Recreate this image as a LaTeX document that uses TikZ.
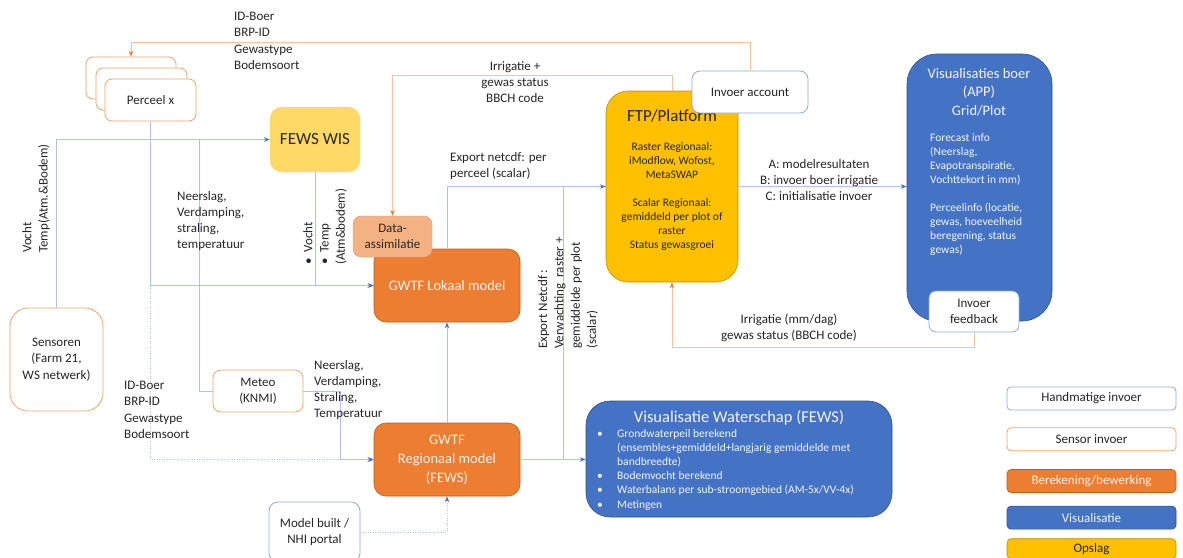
\documentclass[tikz,border=0pt]{standalone}
\usepackage{fontspec}
\setmainfont{Carlito}
\usepackage{xcolor}
\usepackage{tikz}
\usetikzlibrary{positioning, arrows.meta}

\definecolor{calcorange}{HTML}{ED7D31}
\definecolor{calcborder}{HTML}{C55A11}
\definecolor{visblue}{HTML}{4472C4}
\definecolor{visborder}{HTML}{2F528F}
\definecolor{storeyellow}{HTML}{FFC000}
\definecolor{storeborder}{HTML}{BF9000}
\definecolor{wisyellow}{HTML}{FFD966}
\definecolor{assimorange}{HTML}{F4B183}
\definecolor{inputblue}{HTML}{8FAADC}
\definecolor{sensororange}{HTML}{F4A36A}
\definecolor{linkblue}{HTML}{AFC3E8}
\definecolor{linkorange}{HTML}{F7C19C}
\definecolor{txtgray}{HTML}{262626}
\definecolor{lighttxt}{HTML}{F5F5F5}

\newcommand{\normtxt}{\fontsize{13}{16.3}\selectfont}
\newcommand{\smalltxt}{\fontsize{11.5}{14.1}\selectfont}
\newcommand{\midtxt}{\fontsize{14.5}{18.5}\selectfont}
\newcommand{\bigtxt}{\fontsize{17}{20}\selectfont}

\begin{document}
\begin{tikzpicture}[
    x=1pt, y=-1pt,
    every node/.style={align=center, text=txtgray, font=\normtxt, inner sep=2pt},
    inputbox/.style={rectangle, draw=inputblue, fill=white, line width=0.8pt},
    sensorbox/.style={rectangle, draw=sensororange, fill=white, line width=0.8pt},
    calcbox/.style={rectangle, draw=calcborder, fill=calcorange, line width=0.6pt, text=lighttxt},
    visbox/.style={rectangle, draw=visborder, fill=visblue, line width=0.6pt, text=lighttxt},
    storebox/.style={rectangle, draw=storeborder, fill=storeyellow, line width=0.6pt},
    legendbox/.style={minimum width=169pt, minimum height=23pt, rounded corners=4pt},
    bluelink/.style={draw=linkblue, line width=0.8pt},
    bluearrow/.style={bluelink, -{Stealth[length=6pt, width=4.5pt, color=visblue]}},
    dotlink/.style={bluelink, dash pattern=on 1pt off 1.5pt},
    orangelink/.style={draw=linkorange, line width=0.8pt},
    orangearrow/.style={orangelink, -{Stealth[length=6pt, width=4.5pt, color=calcorange]}}
]
\fill[white] (0,0) rectangle (1183,557);
\useasboundingbox (0,0) rectangle (1183,557);

% boxes
\node[sensorbox, rounded corners=7pt, minimum width=90pt, minimum height=42pt] (perc3) at (131,78) {};
\node[sensorbox, rounded corners=7pt, minimum width=91pt, minimum height=42pt] (perc2) at (141.5,89) {};
\node[sensorbox, rounded corners=7pt, minimum width=91pt, minimum height=42pt] (perc) at (150.5,100) {Perceel x};
\node[rectangle, draw=wisyellow, fill=wisyellow, rounded corners=12pt, minimum width=90pt, minimum height=65pt, font=\bigtxt] (fews) at (315,139.5) {FEWS WIS};
\node[storebox, rounded corners=22pt, minimum width=132pt, minimum height=191pt] (ftp) at (672,186.5) {};
\node[font=\bigtxt] (ftptitle) at (672,116) {FTP/Platform};
\node[font=\smalltxt, anchor=north] (ftpbody) at (672,140) {Raster Regionaal:\\iModflow, Wofost,\\MetaSWAP\\[14pt]Scalar Regionaal:\\gemiddeld per plot of\\raster\\Status gewasgroei};
\node[inputbox, rounded corners=8pt, minimum width=116pt, minimum height=42pt] (account) at (750,92) {Invoer account};
\node[visbox, rounded corners=30pt, minimum width=145pt, minimum height=267pt] (visboer) at (979.5,187.5) {};
\node[font=\midtxt, text=lighttxt] (visboertitle) at (979,92) {Visualisaties boer\\(APP)\\Grid/Plot};
\node[font=\smalltxt, text=lighttxt, align=left, anchor=north west] (visboerbody) at (928,131) {Forecast info\\(Neerslag,\\Evapotranspiratie,\\Vochttekort in mm)\\[14pt]Perceelinfo (locatie,\\gewas, hoeveelheid\\beregening, status\\gewas)};
\node[inputbox, rounded corners=7pt, minimum width=90pt, minimum height=41pt] (feedback) at (974,311.5) {Invoer\\feedback};
\node[calcbox, rounded corners=12pt, minimum width=146pt, minimum height=73pt, font=\midtxt] (lokaal) at (447,285.5) {GWTF Lokaal model};
\node[rectangle, draw=assimorange!90!black, fill=assimorange, rounded corners=8pt, minimum width=79pt, minimum height=41pt] (assim) at (392.5,236.5) {Data-\\assimilatie};
\node[calcbox, rounded corners=12pt, minimum width=146pt, minimum height=73pt, font=\fontsize{14.5}{19}\selectfont] (regio) at (447,459.5) {GWTF\\Regionaal model\\(FEWS)};
\node[inputbox, rounded corners=9pt, minimum width=91pt, minimum height=60pt] (model) at (314.5,532) {Model built /\\NHI portal};
\node[sensorbox, rounded corners=18pt, minimum width=93pt, minimum height=103pt] (sensoren) at (56.5,359.5) {Sensoren\\(Farm 21,\\WS netwerk)};
\node[sensorbox, rounded corners=8pt, minimum width=90pt, minimum height=42pt] (meteo) at (258,391) {Meteo\\(KNMI)};
\node[visbox, rounded corners=24pt, minimum width=306pt, minimum height=116pt] (viswater) at (739,459) {};
\node[font=\fontsize{16.5}{20}\selectfont, text=lighttxt] (viswatertitle) at (739,418) {Visualisatie Waterschap (FEWS)};
\node[font=\fontsize{11.5}{14.2}\selectfont, text=lighttxt, align=left, anchor=north west, inner sep=0pt] (viswaterbody) at (597,427) {%
\begin{tabular}{@{}p{20pt}@{}l@{}}
\textbullet & Grondwaterpeil berekend\\
 & (ensembles+gemiddeld+langjarig gemiddelde met\\
 & bandbreedte)\\
\textbullet & Bodemvocht berekend\\
\textbullet & Waterbalans per sub-stroomgebied (AM-5x/VV-4x)\\
\textbullet & Metingen
\end{tabular}};

% legend
\node[inputbox, legendbox] (leghand) at (1091.5,398.5) {Handmatige invoer};
\node[sensorbox, legendbox, below=17pt of leghand] (legsensor) {Sensor invoer};
\node[calcbox, legendbox, below=18pt of legsensor] (legcalc) {Berekening/bewerking};
\node[visbox, legendbox, below=13pt of legcalc] (legvis) {Visualisatie};
\node[storebox, legendbox, minimum height=20pt, below=9pt of legvis] (legstore) {Opslag};

% joins
\coordinate (meteojoin) at (199.5,139.5);
\coordinate (regiojoin) at (340,459.5);
\coordinate (ftpjoin) at (563,459.5);

% orange connectors
\draw[orangearrow] (account.north) -- ++(0,-28) -| (perc3.north);
\draw[orangearrow] (ftp.north) -- ++(0,-15) -| (assim.north);
\draw[orangearrow] (feedback.south) -- ++(0,15) -| (ftp.south);

% blue connectors
\draw[bluearrow] (sensoren.north) |- (fews.west);
\draw[bluelink] (meteo.west) -| (meteojoin);
\draw[dotlink, -{Stealth[length=6pt, width=4.5pt, color=visblue]}] (perc.south |- lokaal.west) |- (regio.west);
\draw[bluearrow] (perc.south) |- (lokaal.west);
\draw[bluearrow] (fews.south) |- (lokaal.west);
\draw[bluearrow] (meteo.east) -| (regiojoin) -- (regio.west);
\draw[bluearrow] (regio.north) -- (lokaal.south);
\draw[bluearrow] (regio.east) -- (viswater.west |- regio.east);
\draw[bluelink] (ftpjoin) |- (ftp.west);
\draw[bluearrow] (lokaal.north) |- (ftp.west);
\draw[bluearrow] (ftp.east) -- (visboer.west |- ftp.east);
\draw[dotlink, -{Stealth[length=6pt, width=4.5pt, color=visblue]}] (model.east) -| (regio.south);

% labels
\node[anchor=west, align=left] (lblid) at (232,41) {ID-Boer\\BRP-ID\\Gewastype\\Bodemsoort};
\node (lblirr) at (515,82) {Irrigatie +\\gewas status\\BBCH code};
\node[anchor=west, align=left] (lblexport) at (448,166) {Export netcdf: per\\perceel (scalar)};
\node (lblabc) at (819,180) {A: modelresultaten\\B: invoer boer irrigatie\\C: initialisatie invoer};
\node (lblfeedback) at (789,328) {Irrigatie (mm/dag)\\gewas status (BBCH code)};
\node[anchor=west, align=left] (lblmeteo) at (175,221) {Neerslag,\\Verdamping,\\straling,\\temperatuur};
\node[anchor=west, align=left] (lblid2) at (122,410) {ID-Boer\\BRP-ID\\Gewastype\\Bodemsoort};
\node[anchor=west, align=left] (lblmeteo2) at (312,390) {Neerslag,\\Verdamping,\\Straling,\\Temperatuur};
\node[rotate=90, anchor=west, align=left, inner sep=0pt] (lblsensor) at (36,253) {Vocht\\Temp(Atm.\&Bodem)};
\node[rotate=90, anchor=west, align=left, inner sep=0pt] (lblwis) at (325,265) {\textbullet\ \ Vocht\\\textbullet\ \ Temp\\(Atm\&bodem)};
\node[rotate=90, anchor=west, align=left, inner sep=0pt] (lblnetcdf) at (568,349) {Export Netcdf :\\Verwachting\ \ raster +\\gemiddelde per plot\\(scalar)};

\end{tikzpicture}
\end{document}
